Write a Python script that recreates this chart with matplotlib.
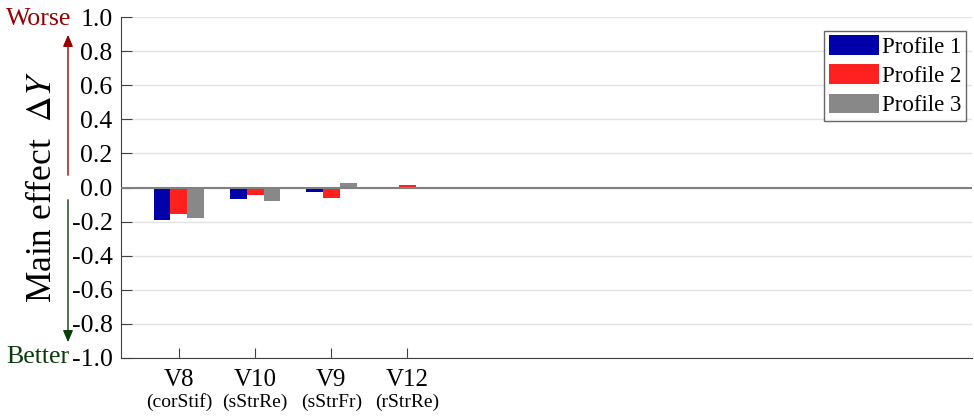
import numpy as np
import matplotlib.pyplot as plt
from matplotlib.patches import Patch

plt.rcParams['font.family'] = ['Liberation Serif', 'DejaVu Serif']
plt.rcParams['mathtext.fontset'] = 'stix'

# Donnees
variables = ['V8', 'V10', 'V9', 'V12']
sub_names = ['(corStif)', '(sStrRe)', '(sStrFr)', '(rStrRe)']
profile_1 = [-0.188, -0.069, -0.029, 0.0]
profile_2 = [-0.153, -0.045, -0.061, 0.013]
profile_3 = [-0.178, -0.082, 0.028, 0.0]
profile_labels = ['Profile 1', 'Profile 2', 'Profile 3']
y_ticks = [-1.0, -0.8, -0.6, -0.4, -0.2, 0.0, 0.2, 0.4, 0.6, 0.8, 1.0]

colors = ['#0000AA', '#FF2020', '#888888']

fig = plt.figure(figsize=(9.74, 4.2), dpi=100)
ax = fig.add_axes([121 / 974, 62 / 420, 851 / 974, 341 / 420])

x = np.arange(1, len(variables) + 1)
w = 0.222
for k, vals in enumerate([profile_1, profile_2, profile_3]):
    ax.bar(x + (k - 1) * w, vals, width=w, color=colors[k], zorder=3)

ax.axhline(0, color='#808080', lw=1.5, zorder=4)

ax.set_xlim(0.24, 11.41)
ax.set_ylim(-1, 1)
ax.set_yticks(y_ticks)
ax.set_yticklabels([f'{v:.1f}' for v in y_ticks], fontsize=18.5)
ax.set_xticks(x)
ax.set_xticklabels(variables, fontsize=18)
for xi, s in zip(x, sub_names):
    ax.text(xi, -1.26, s, ha='center', va='center', fontsize=14,
            transform=ax.transData, clip_on=False)

ax.grid(axis='y', color='#E3E3E3', lw=1, zorder=0)
ax.tick_params(axis='y', direction='in', length=8, pad=6, color='#404040')
ax.tick_params(axis='x', direction='in', length=7, pad=8, color='#404040')
for sp in ['top', 'right']:
    ax.spines[sp].set_visible(False)
for sp in ['left', 'bottom']:
    ax.spines[sp].set_color('#404040')

# Legende
handles = [Patch(facecolor=c, label=l) for c, l in zip(colors, profile_labels)]
leg = ax.legend(handles=handles, loc='upper right', bbox_to_anchor=(0.9925, 0.96),
                fontsize=16.5, frameon=True, fancybox=False, edgecolor='#404040',
                handlelength=2.2, handleheight=0.95, handletextpad=0.1,
                labelspacing=0.28, borderpad=0.2, borderaxespad=0)
leg.get_frame().set_linewidth(1)

# Titre de l'axe y et fleches
fig.text(43 / 974, 1 - 187 / 420, r'Main effect  $\Delta Y$', rotation=90,
         ha='center', va='center', fontsize=25.5)
fig.text(71 / 974, 1 - 19 / 420, 'Worse', ha='right', va='center',
         fontsize=18.6, color='#990000')
fig.text(69 / 974, 1 - 357 / 420, 'Better', ha='right', va='center',
         fontsize=18.6, color='#0B3D0B')
ax.annotate('', xy=(68 / 974, 1 - 32 / 420), xytext=(68 / 974, 1 - 178 / 420),
            xycoords='figure fraction', textcoords='figure fraction',
            arrowprops=dict(arrowstyle='-|>,head_width=0.3,head_length=0.7',
                            color='#990000', lw=1))
ax.annotate('', xy=(68 / 974, 1 - 345 / 420), xytext=(68 / 974, 1 - 197 / 420),
            xycoords='figure fraction', textcoords='figure fraction',
            arrowprops=dict(arrowstyle='-|>,head_width=0.3,head_length=0.7',
                            color='#0B3D0B', lw=1))

fig.savefig('out.png', dpi=100)
